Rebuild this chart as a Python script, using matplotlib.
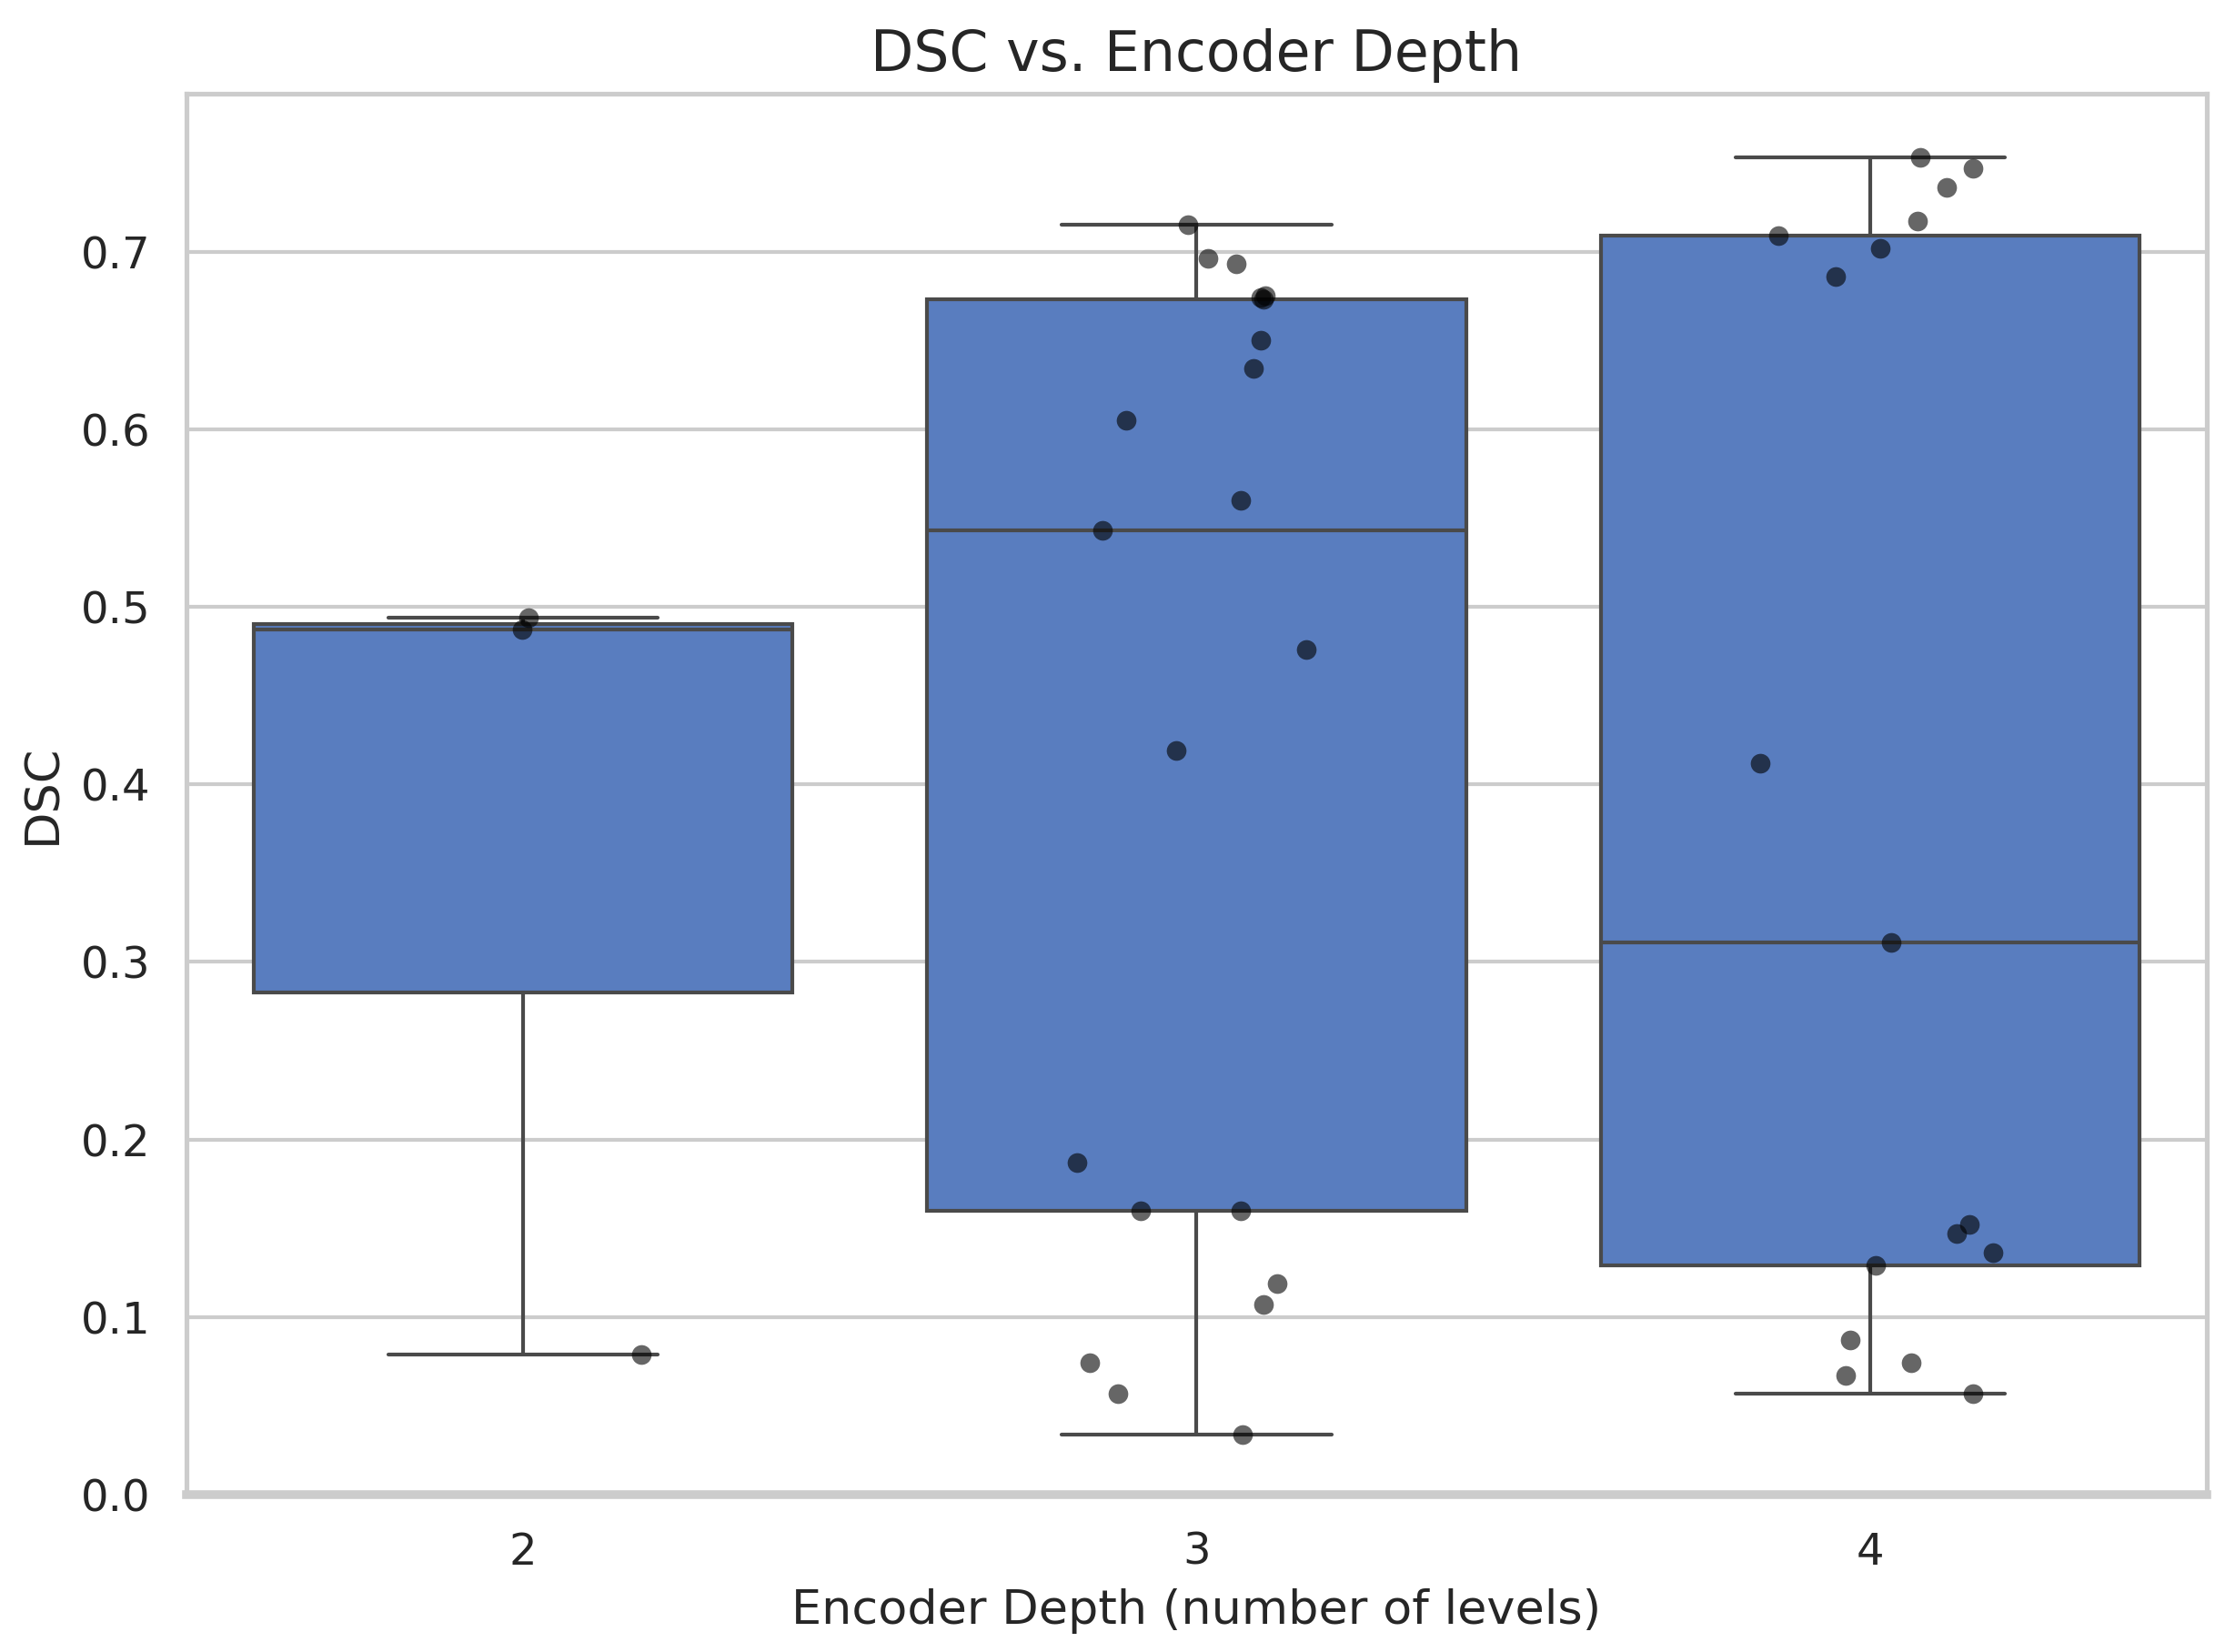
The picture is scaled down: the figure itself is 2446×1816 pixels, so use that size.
import matplotlib
matplotlib.use("Agg")
import matplotlib.pyplot as plt
import seaborn as sns
import numpy as np

# depth categories and DSC values
depths = ["2", "3", "4"]

dsc_depth2 = [0.494, 0.487, 0.079]
dsc_depth3 = [0.715, 0.696, 0.693, 0.675, 0.674, 0.673, 0.650, 0.634, 0.605, 0.560,
              0.543, 0.476, 0.419, 0.187, 0.160, 0.160, 0.119, 0.107, 0.074, 0.057, 0.034]
dsc_depth4 = [0.753, 0.747, 0.736, 0.717, 0.709, 0.702, 0.686, 0.412, 0.311, 0.152,
              0.147, 0.136, 0.129, 0.087, 0.074, 0.067, 0.057]

# horizontal jitter of each point (as seen in the picture)
jitter_depth2 = [0.008, -0.002, 0.176]
jitter_depth3 = [-0.013, 0.017, 0.059, 0.102, 0.095, 0.100, 0.095, 0.085, -0.104, 0.066,
                 -0.140, 0.163, -0.030, -0.178, -0.083, 0.066, 0.119, 0.100, -0.159, -0.117, 0.068]
jitter_depth4 = [0.074, 0.153, 0.114, 0.070, -0.136, 0.015, -0.051, -0.163, 0.032, 0.148,
                 0.129, 0.182, 0.008, -0.030, 0.061, -0.036, 0.153]

sns.set_theme(style="whitegrid", context="notebook", font_scale=1.05)

groups = [dsc_depth2, dsc_depth3, dsc_depth4]
jitters = [jitter_depth2, jitter_depth3, jitter_depth4]

box_color = "#597dbf"
line_color = "#4a4a4a"

fig = plt.figure(figsize=(2446 / 300, 1816 / 300), dpi=300)
ax = fig.add_axes([0.0838, 0.0953, 0.9918 - 0.0838, 0.9433 - 0.0953])

positions = np.arange(len(depths))
ax.boxplot(groups, positions=positions, widths=0.8, patch_artist=True,
           showfliers=False, whis=1.5,
           boxprops=dict(facecolor=box_color, edgecolor=line_color, linewidth=1.0),
           medianprops=dict(color=line_color, linewidth=1.0),
           whiskerprops=dict(color=line_color, linewidth=1.0),
           capprops=dict(color=line_color, linewidth=1.0, solid_capstyle="round"),
           capwidths=0.4, zorder=2)

for i, (vals, jit) in enumerate(zip(groups, jitters)):
    xs = positions[i] + np.array(jit)
    ax.scatter(xs, vals, s=27, color="black", alpha=0.6, linewidths=0, zorder=3)

ax.set_xticks(positions)
ax.set_xticklabels(depths)
ax.set_xlim(-0.5, len(depths) - 0.5)
ax.set_ylim(bottom=0)
ax.grid(axis="x", visible=False)
ax.spines["bottom"].set_linewidth(2.3)

ax.set_title("DSC vs. Encoder Depth", fontsize=14.8)
ax.set_xlabel("Encoder Depth (number of levels)")
ax.set_ylabel("DSC")

fig.savefig("out.png", dpi=300)
